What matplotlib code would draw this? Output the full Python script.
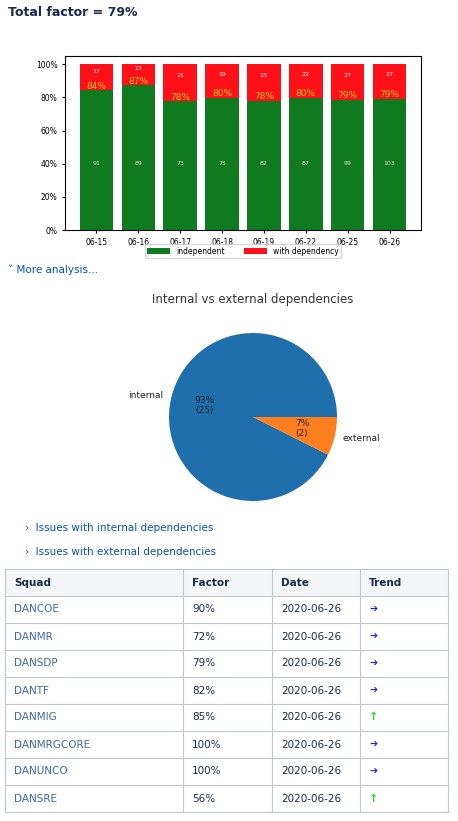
import matplotlib.pyplot as plt
import numpy as np
from matplotlib.ticker import PercentFormatter
from matplotlib.patches import Rectangle

dates = ['06-15', '06-16', '06-17', '06-18', '06-19', '06-22', '06-25', '06-26']
independent = [91, 89, 73, 75, 82, 87, 99, 103]
with_dep = [17, 13, 21, 19, 23, 22, 27, 27]

pie_labels = ['internal', 'external']
pie_values = [25, 2]

squads = ['DANCOE', 'DANMR', 'DANSDP', 'DANTF', 'DANMIG', 'DANMRGCORE', 'DANUNCO', 'DANSRE']
factors = ['90%', '72%', '79%', '82%', '85%', '100%', '100%', '56%']
rows_date = ['2020-06-26'] * 8
trends = ['right', 'right', 'right', 'right', 'up', 'right', 'right', 'up']

W, H = 458, 821
fig = plt.figure(figsize=(W / 100, H / 100), dpi=100)
link = '#0052cc'
dark = '#172b4d'


def px_axes(x0, y0, x1, y1):
    return fig.add_axes([x0 / W, 1 - y1 / H, (x1 - x0) / W, (y1 - y0) / H])


# page overlay in pixel coordinates
page = fig.add_axes([0, 0, 1, 1], zorder=-1)
page.set_xlim(0, W)
page.set_ylim(H, 0)
page.axis('off')
page.text(8, 12, 'Total factor = 79%', fontsize=9, fontweight='bold', color=dark, va='center')
page.text(8, 270, '\u02c5 More analysis...', fontsize=7.5, color=link, va='center')
page.text(25, 528, '\u203a  Issues with internal dependencies', fontsize=7.5, color=link, va='center')
page.text(25, 552, '\u203a  Issues with external dependencies', fontsize=7.5, color=link, va='center')

# bar chart
ax = px_axes(65, 56, 421, 230)
tot = np.array(independent) + np.array(with_dep)
p_ind = np.array(independent) / tot * 100
p_dep = 100 - p_ind
x = np.arange(len(dates))
ax.bar(x, p_ind, 0.8, color='#107a1e', label='independent')
ax.bar(x, p_dep, 0.8, bottom=p_ind, color='#ff1019', label='with dependency')
for i in range(len(dates)):
    ax.text(x[i], 40, str(independent[i]), ha='center', va='center', fontsize=4.5, color='#dddddd')
    ax.text(x[i], p_ind[i] + (100 - p_ind[i]) * 0.55 + 3, str(with_dep[i]), ha='center', va='center',
            fontsize=4.5, color='#eeeeee')
    ax.text(x[i], p_ind[i] + 2.5, '%d%%' % round(p_ind[i]), ha='center', va='center', fontsize=6.5, color='#f5c518')
ax.set_ylim(0, 105)
ax.set_xlim(-0.75, 7.75)
ax.yaxis.set_major_formatter(PercentFormatter(decimals=0))
ax.set_xticks(x, dates)
ax.tick_params(labelsize=5.5, length=2)
ax.legend(loc='upper center', bbox_to_anchor=(0.5, -0.06), ncol=2, fontsize=5.5,
          frameon=True, borderpad=0.3, handlelength=3, columnspacing=2.5)

# pie chart
ax2 = px_axes(169, 333, 337, 501)
ax2.pie(pie_values, labels=pie_labels, colors=['#1f6fad', '#ff7f1e'],
        autopct=lambda p: '%d%%\n(%d)' % (round(p), round(p * sum(pie_values) / 100)),
        textprops={'fontsize': 6.5, 'color': '#222222'}, labeldistance=1.1, pctdistance=0.6)
ax2.set_xlim(-1, 1)
ax2.set_ylim(-1, 1)
ax2.set_aspect('equal')
page.text(253, 300, 'Internal vs external dependencies', fontsize=8.5, ha='center', va='center', color='#333333')

# table
cols = [5, 183, 272, 360, 448]
top, head_h, row_h = 569, 27, 27
border = '#c1c7d0'
page.add_patch(Rectangle((cols[0], top), cols[-1] - cols[0], head_h, facecolor='#f4f5f7', edgecolor='none'))
bottom = top + head_h + row_h * len(squads)
for cx in cols:
    page.plot([cx, cx], [top, bottom], color=border, lw=0.8)
for k in range(len(squads) + 2):
    yy = top + head_h + row_h * (k - 1) if k > 0 else top
    page.plot([cols[0], cols[-1]], [yy, yy], color=border, lw=0.8)
for j, h in enumerate(['Squad', 'Factor', 'Date', 'Trend']):
    page.text(cols[j] + 9, top + head_h / 2, h, fontsize=7.5, fontweight='bold', color=dark, va='center')
for i in range(len(squads)):
    cy = top + head_h + row_h * i + row_h / 2
    page.text(cols[0] + 9, cy, squads[i], fontsize=7.5, color='#3b6aa8', va='center')
    page.text(cols[1] + 9, cy, factors[i], fontsize=7.5, color=dark, va='center')
    page.text(cols[2] + 9, cy, rows_date[i], fontsize=7.5, color=dark, va='center')
    if trends[i] == 'up':
        page.text(cols[3] + 9, cy, '\u2191', fontsize=8, fontweight='bold', color='#22dd22', va='center')
    else:
        page.text(cols[3] + 9, cy, '\u2794', fontsize=7, fontweight='bold', color='#2222ee', va='center')

fig.savefig('out.png', dpi=100)
